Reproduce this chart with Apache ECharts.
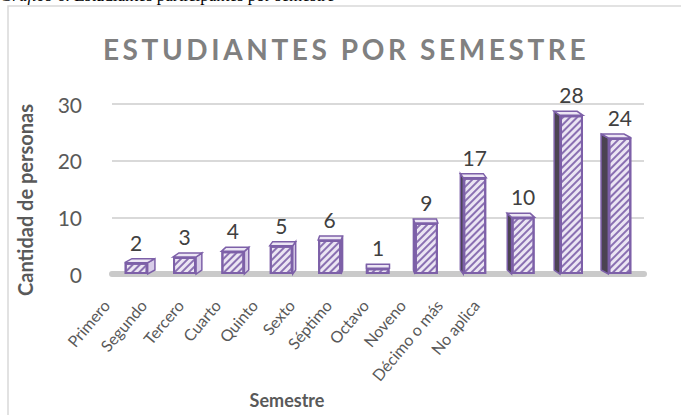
<!DOCTYPE html>
<html>
<head>
<meta charset="utf-8">
<script src="https://cdn.jsdelivr.net/npm/echarts@6/dist/echarts.min.js"></script>
<style>
  html, body { margin: 0; padding: 0; background: #fff; }
  #chart { width: 681px; height: 415px; }
</style>
</head>
<body>
<div id="chart"></div>
<script>
// data
var semestres = ['Primero', 'Segundo', 'Tercero', 'Cuarto', 'Quinto', 'Sexto',
                 'Séptimo', 'Octavo', 'Noveno', 'Décimo o más', 'No aplica'];
var personas = [2, 3, 4, 5, 6, 1, 9, 17, 10, 28, 24];
var yMin = 0, yMax = 30, yStep = 10;

var titleText = 'ESTUDIANTES POR SEMESTRE';
var captionText = 'Estudiantes participantes por semestre';

var edge = '#7d60a8';
var barW = 23;
var font = 'Lato';

// top / side faces of each box, drawn behind the flat bars
function renderBox(params, api) {
    var v = api.value(1);
    var top = api.coord([api.value(0), v]);
    var base = api.coord([api.value(0), 0]);
    var cs = params.coordSys;
    var mid = cs.x + cs.width / 2;
    var dx = (mid - top[0]) * 0.03;
    var dy = -4;
    var x0 = top[0] - barW / 2, x1 = top[0] + barW / 2;
    var yt = top[1], yb = base[1];
    var sx = dx > 0 ? x1 : x0;
    return {
        type: 'group',
        children: [
            {
                type: 'polygon',
                shape: { points: [[sx, yt], [sx + dx, yt + dy], [sx + dx, yb + dy], [sx, yb]] },
                style: { fill: dx > 0 ? '#d8cde8' : '#4b4352', stroke: edge, lineWidth: 1.5 }
            },
            {
                type: 'polygon',
                shape: { points: [[x0, yt], [x1, yt], [x1 + dx, yt + dy], [x0 + dx, yt + dy]] },
                style: { fill: '#ece6f4', stroke: edge, lineWidth: 1.5 }
            }
        ]
    };
}

var option = {
    animation: false,
    backgroundColor: '#fff',
    textStyle: { fontFamily: font },
    graphic: [
        {
            type: 'rect', z: 0, silent: true,
            shape: { x: 8, y: 6, width: 720, height: 460 },
            style: { fill: 'none', stroke: '#d9d9d9', lineWidth: 1.5 }
        },
        {
            type: 'text', x: 0, y: -5, z: 1,
            style: {
                text: '{i|Gráfico 6.} ' + captionText,
                rich: { i: { fontStyle: 'italic', fontFamily: 'Liberation Serif', fontSize: 17, fill: '#000' } },
                fontFamily: 'Liberation Serif', fontSize: 17, fill: '#000',
                verticalAlign: 'middle'
            }
        },
        {
            type: 'text', x: 346, y: 49, z: 1,
            style: {
                text: titleText,
                fontFamily: font, fontSize: 28, fontWeight: 'bold', fill: '#808080',
                align: 'center', verticalAlign: 'middle'
            }
        }
    ],
    grid: [
        { left: 112, right: 37, top: 104, bottom: 141 },
        { left: 87.5, right: 186.5, top: 295, height: 1 }
    ],
    xAxis: [
        {
            type: 'category', gridIndex: 0, data: semestres,
            axisLine: { lineStyle: { color: '#cacaca', width: 6 } },
            axisTick: { show: false },
            axisLabel: { show: false }
        },
        {
            type: 'category', gridIndex: 1, data: semestres,
            axisLine: { show: false },
            axisTick: { show: false },
            axisLabel: { interval: 0, rotate: 50, margin: 6, fontSize: 16, color: '#595959', fontFamily: font },
            name: 'Semestre', nameLocation: 'middle', nameGap: 95,
            nameTextStyle: { fontSize: 18, fontWeight: 'bold', color: '#595959', fontFamily: font, padding: [0, 8, 0, 0] }
        }
    ],
    yAxis: [
        {
            type: 'value', gridIndex: 0, min: yMin, max: yMax, interval: yStep,
            axisLine: { show: false },
            axisTick: { show: false },
            axisLabel: { margin: 30, fontSize: 21, color: '#595959', fontFamily: font },
            splitLine: { lineStyle: { color: '#d9d9d9', width: 2 } },
            name: 'Cantidad de personas', nameLocation: 'middle', nameGap: 77,
            nameTextStyle: { fontSize: 20, fontWeight: 'bold', color: '#595959', fontFamily: font, padding: [0, 22, 0, 0] }
        },
        { type: 'value', gridIndex: 1, show: false }
    ],
    series: [
        {
            type: 'custom', xAxisIndex: 0, yAxisIndex: 0, z: 2,
            renderItem: renderBox,
            encode: { x: 0, y: 1 },
            data: personas.map(function (v, i) { return [i, v]; })
        },
        {
            type: 'bar', xAxisIndex: 0, yAxisIndex: 0, z: 3,
            barWidth: barW,
            data: personas,
            itemStyle: {
                color: '#ebe5f3',
                borderColor: edge,
                borderWidth: 2,
                decal: {
                    symbol: 'rect', symbolSize: 1, color: '#8a70b2',
                    dashArrayX: [1, 0], dashArrayY: [2, 3], rotation: -Math.PI / 4
                }
            },
            label: {
                show: true, position: 'top', distance: 10,
                fontSize: 21, color: '#404040', fontFamily: font
            }
        }
    ]
};

var dom = document.getElementById('chart');
var chart = echarts.init(dom, null, { renderer: 'svg' });
chart.setOption(option);

// spaced-out title letters, as in the picture
function spaceTitle() {
    dom.querySelectorAll('text').forEach(function (t) {
        if (t.textContent === titleText) {
            t.setAttribute('letter-spacing', '3.6');
        }
    });
}
spaceTitle();
chart.on('finished', spaceTitle);
</script>
</body>
</html>
